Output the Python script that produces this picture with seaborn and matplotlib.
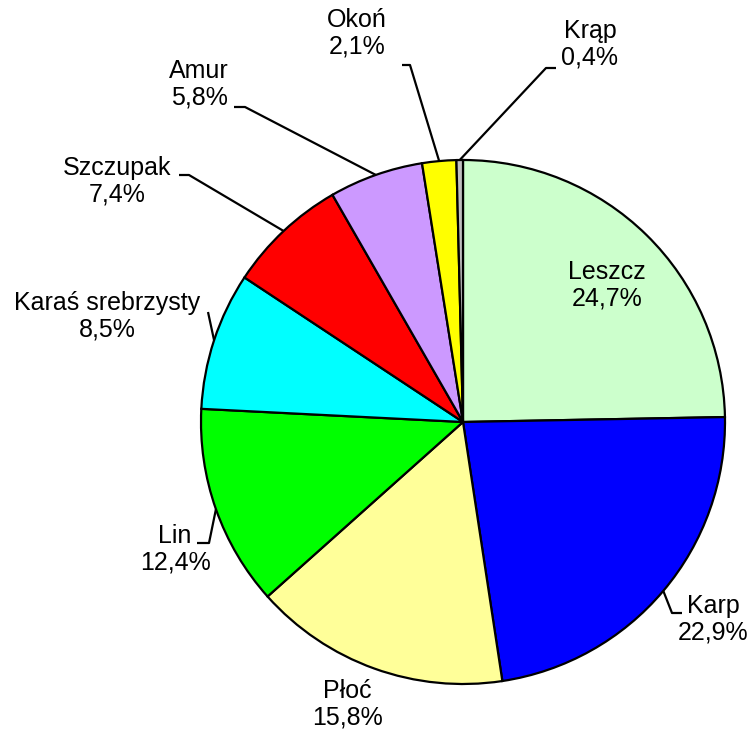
import matplotlib
matplotlib.use("Agg")
import matplotlib.pyplot as plt
import numpy as np
import seaborn as sns

# Catch composition by species (percent)
species = ["Leszcz", "Karp", "Płoć", "Lin", "Karaś srebrzysty",
           "Szczupak", "Amur", "Okoń", "Krąp"]
shares = [24.7, 22.9, 15.8, 12.4, 8.5, 7.4, 5.8, 2.1, 0.4]
colors = ["#CCFFCC", "#0000FF", "#FFFF99", "#00FF00", "#00FFFF",
          "#FF0000", "#CC99FF", "#FFFF00", "#C0C0C0"]

sns.set_theme(style="white")
plt.rcParams["font.family"] = ["Liberation Sans", "DejaVu Sans"]

W, H = 755, 731
fig = plt.figure(figsize=(W / 100, H / 100), dpi=100)
ax = fig.add_axes([0, 0, 1, 1])

cx, cy, r = 463, H - 422, 262
wedges, _ = ax.pie(shares, colors=colors, startangle=90, counterclock=False,
                   center=(cx, cy), radius=r, frame=True,
                   wedgeprops=dict(edgecolor="black", linewidth=1.6))
ax.set_xlim(0, W)
ax.set_ylim(0, H)
ax.set_aspect("equal")
ax.axis("off")

# label placement (pixel layout, y measured from top): text centre, elbow, tail end
layout = {
    "Leszcz": ((607, 285), None, None),
    "Karp": ((713, 619), (672, 613), (682, 613)),
    "Płoć": ((347, 704), None, None),
    "Lin": ((175, 549), (209, 543), (197, 543)),
    "Karaś srebrzysty": ((107, 316), (208, 312), None),
    "Szczupak": ((117, 181), (189, 175), (179, 175)),
    "Amur": ((199, 84), (245, 107), (234, 107)),
    "Okoń": ((357, 33), (410, 65), (402, 65)),
    "Krąp": ((590, 44), (546, 68), (556, 68)),
}

for w, name, val in zip(wedges, species, shares):
    (tx, ty), elbow, tail = layout[name]
    label = f"{name}\n{val:.1f}%".replace(".", ",")
    ax.text(tx, H - ty, label, ha="center", va="center", ma="center",
            fontsize=18, color="black", linespacing=1.12)
    if elbow is not None:
        mid = np.deg2rad((w.theta1 + w.theta2) / 2)
        ex, ey = cx + r * np.cos(mid), cy + r * np.sin(mid)
        xs = [ex, elbow[0]]
        ys = [ey, H - elbow[1]]
        if tail is not None:
            xs.append(tail[0])
            ys.append(H - tail[1])
        ax.plot(xs, ys, color="black", linewidth=1.6, solid_capstyle="butt")

fig.savefig("out.png", dpi=100, facecolor="white")
